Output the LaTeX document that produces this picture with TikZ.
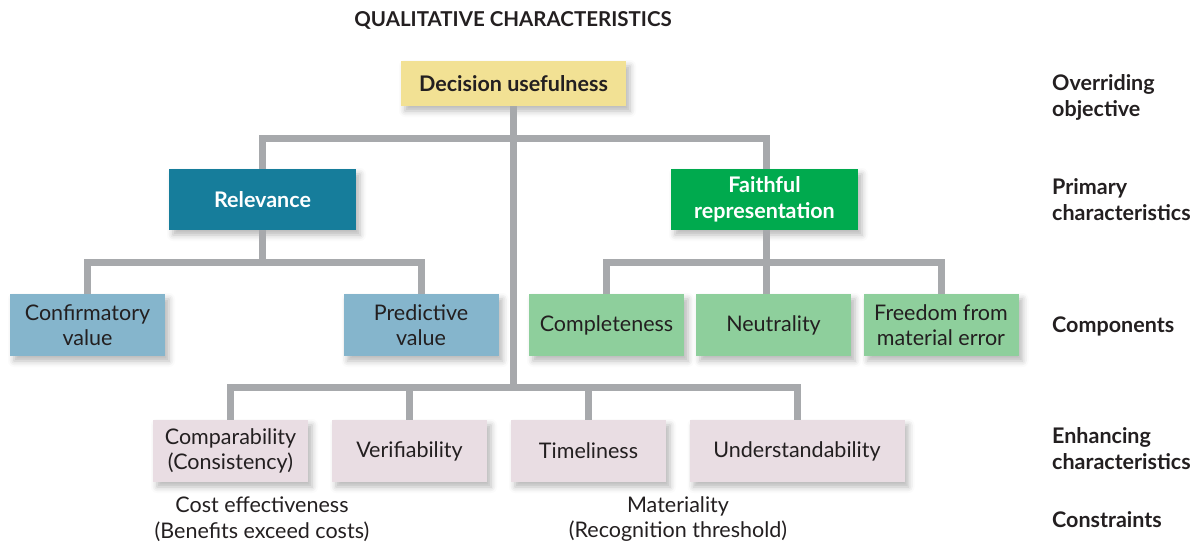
\documentclass[tikz,border=0pt]{standalone}
\usepackage{fontspec}
\setmainfont{Lato}
\usetikzlibrary{shadows.blur}
\definecolor{txt}{HTML}{231F20}
\definecolor{linegray}{HTML}{A7A9AC}
\definecolor{yel}{HTML}{F2E194}
\definecolor{relc}{HTML}{167D9B}
\definecolor{frc}{HTML}{00AA4E}
\definecolor{lblue}{HTML}{85B5CC}
\definecolor{lgreen}{HTML}{8ECF9C}
\definecolor{lpink}{HTML}{E9DDE3}
\begin{document}
\begin{tikzpicture}[x=1pt,y=-1pt,
  box/.style={minimum width=155pt, minimum height=62pt, inner sep=0pt, align=center,
    font=\fontsize{21.5}{25.5}\selectfont, text=txt,
    blur shadow={shadow xshift=4pt, shadow yshift=-5pt, shadow blur radius=6pt, shadow opacity=28}},
  mainbox/.style={box, minimum width=187pt, minimum height=61pt, text=white,
    font=\fontsize{21.5}{26}\selectfont\bfseries},
  conn/.style={draw=linegray, line width=7pt},
  plain/.style={align=center, text=txt, inner sep=0pt, font=\fontsize{21.5}{25.5}\selectfont},
  rlabel/.style={anchor=west, align=left, inner sep=0pt, text=txt, font=\fontsize{21.5}{26}\selectfont\bfseries}]
\useasboundingbox (0,0) rectangle (1197,543);

\node[text=txt, font=\fontsize{20.5}{22}\selectfont\bfseries] (title) at (513,20) {QUALITATIVE CHARACTERISTICS};

\node[box, fill=yel, minimum width=225pt, minimum height=45pt, font=\fontsize{21.5}{24}\selectfont\bfseries] (dec) at (513.5,83.5) {Decision usefulness};

\node[mainbox, fill=relc] (rel) at (262.5,199.5) {Relevance};
\node[mainbox, fill=frc] (fr) at (764.5,199.5) {Faithful\\representation};

\node[box, fill=lblue] (conf) at (87.5,325) {Confirmatory\\value};
\node[box, fill=lblue] (pred) at (421,325) {Predictive\\value};
\node[box, fill=lgreen] (comp) at (606.5,325) {Completeness};
\node[box, fill=lgreen] (neut) at (773.5,325) {Neutrality};
\node[box, fill=lgreen] (free) at (941,325) {Freedom from\\material error};

\node[box, fill=lpink] (cmpb) at (230.5,451) {Comparability\\(Consistency)};
\node[box, fill=lpink] (ver) at (409.5,451) {Verifiability};
\node[box, fill=lpink] (tim) at (588.5,451) {Timeliness};
\node[box, fill=lpink, minimum width=215pt] (und) at (797,451) {Understandability};

\node[plain] (cost) at (262,519) {Cost effectiveness\\(Benefits exceed costs)};
\node[plain] (mat) at (678,519) {Materiality\\(Recognition threshold)};

\node[rlabel] (l1) at (1052,97) {Overriding\\objective};
\node[rlabel] (l2) at (1052,200) {Primary\\characteristics};
\node[rlabel] (l3) at (1052,326) {Components};
\node[rlabel] (l4) at (1052,449) {Enhancing\\characteristics};
\node[rlabel] (l5) at (1052,520) {Constraints};

% connectors
\coordinate (jt) at (513.5,138);
\coordinate (jb) at (513.5,387);
\coordinate (jr) at (262.5,262);
\coordinate (jf) at (766,262);
\coordinate (frtop) at (766,169);
\coordinate (frbot) at (766,230);

\draw[conn] (dec.south) -- (jb);
\draw[conn] (rel.north) |- (jt) -| (frtop);
\draw[conn] (rel.south) -- (jr);
\draw[conn] (conf.north) |- (jr) -| (pred.north);
\draw[conn] (frbot) -- (jf);
\draw[conn] (comp.north) |- (jf) -| (free.north);
\draw[conn] (jf) -- (jf |- neut.north);
\draw[conn] (cmpb.north) |- (jb) -| (und.north);
\draw[conn] (ver.north) -- (ver.north |- jb);
\draw[conn] (tim.north) -- (tim.north |- jb);
\end{tikzpicture}
\end{document}
